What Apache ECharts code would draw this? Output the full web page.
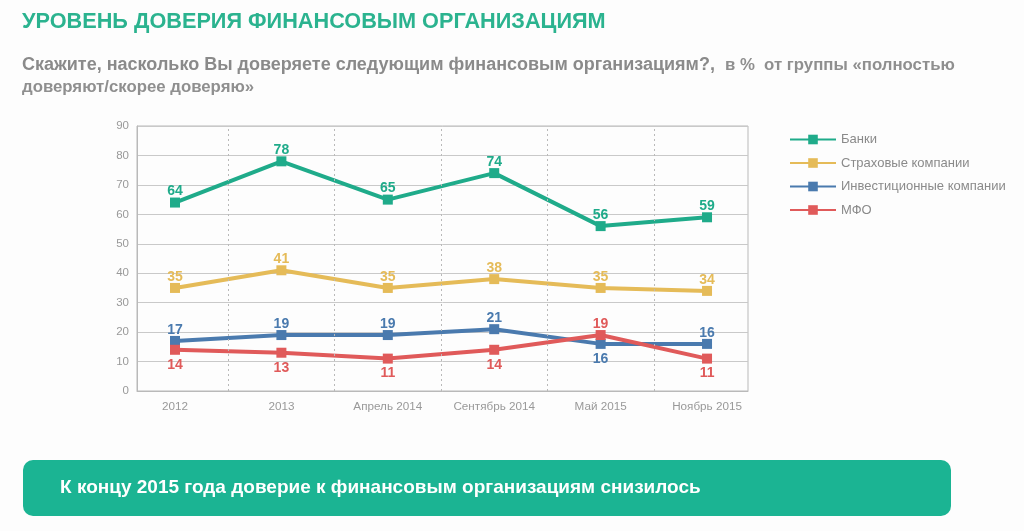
<!DOCTYPE html>
<html>
<head>
    <meta charset="utf-8">
    <title>ECharts</title>
    <script src="https://cdn.jsdelivr.net/npm/echarts@6/dist/echarts.min.js" charset="utf-8"></script>
</head>
<body style="margin:0;background-color:#fdfdfd">
<div id="main" style="width:1024px;height:531px"></div>
<script type="text/javascript">
    var categories = ['2012', '2013', 'Апрель 2014', 'Сентябрь 2014', 'Май 2015', 'Ноябрь 2015'];
    var seriesNames = ['Банки', 'Страховые компании', 'Инвестиционные компании', 'МФО'];
    var banks = [64, 78, 65, 74, 56, 59];
    var insurance = [35, 41, 35, 38, 35, 34];
    var investment = [17, 19, 19, 21, 16, 16];
    var mfo = [14, 13, 11, 14, 19, 11];
    var yTicks = [0, 10, 20, 30, 40, 50, 60, 70, 80, 90];

    var colors = ['#1fab8a', '#e5bb58', '#4a7aae', '#e05a5a'];
    var font = '"Liberation Sans", Arial, sans-serif';

    // labels of the two lower lines go below whichever line is lower at that point
    function points(values, other, lowerBelow) {
        return values.map(function (v, i) {
            var below = lowerBelow && v < other[i];
            return {
                value: [i, v],
                label: {position: below ? 'bottom' : 'top', distance: below ? 3 : -1}
            };
        });
    }

    function line(name, color, data, extra) {
        var s = {
            name: name,
            type: 'line',
            data: data,
            symbol: 'rect',
            symbolSize: 10,
            lineStyle: {width: 4, color: color},
            itemStyle: {color: color},
            label: {
                show: true,
                color: color,
                fontSize: 14,
                fontWeight: 'bold',
                fontFamily: font,
                formatter: function (p) { return p.value[1]; }
            },
            z: 3
        };
        for (var k in extra) s[k] = extra[k];
        return s;
    }

    var myChart = echarts.init(document.getElementById('main'));

    var option = {
        backgroundColor: '#fdfdfd',
        animation: false,
        textStyle: {fontFamily: font},
        title: [
            {
                text: 'УРОВЕНЬ ДОВЕРИЯ ФИНАНСОВЫМ ОРГАНИЗАЦИЯМ',
                left: 22,
                top: 11,
                padding: 0,
                textStyle: {color: '#2bb38f', fontSize: 21.7, fontWeight: 'bold', fontFamily: font}
            },
            {
                text: '{b|Скажите, насколько Вы доверяете следующим финансовым организациям?,}  {n|в %  от группы «полностью}\n{n|доверяют/скорее доверяю»}',
                left: 22,
                top: 54,
                padding: 0,
                textStyle: {
                    rich: {
                        b: {color: '#8a8a8a', fontSize: 18, fontWeight: 'bold', fontFamily: font, lineHeight: 22},
                        n: {color: '#8f8f8f', fontSize: 16.8, fontFamily: font, lineHeight: 22}
                    }
                }
            }
        ],
        legend: {
            orient: 'vertical',
            left: 784,
            top: 128,
            itemWidth: 46,
            itemHeight: 12,
            itemGap: 10.5,
            data: seriesNames,
            textStyle: {color: '#8a8a8a', fontSize: 13, fontFamily: font}
        },
        grid: {
            left: 137,
            right: 276,
            top: 126,
            bottom: 140,
            show: true,
            borderColor: '#b9b9b9',
            borderWidth: 1,
            backgroundColor: 'transparent'
        },
        xAxis: {
            type: 'value',
            min: -0.357,
            max: 5.385,
            axisLine: {show: true, lineStyle: {color: '#b9b9b9'}},
            axisTick: {show: false},
            splitLine: {show: false},
            axisLabel: {
                customValues: [0, 1, 2, 3, 4, 5],
                color: '#999',
                fontSize: 11.7,
                margin: 10,
                formatter: function (v) { return categories[Math.round(v)]; }
            }
        },
        yAxis: {
            type: 'value',
            min: yTicks[0],
            max: yTicks[yTicks.length - 1],
            interval: 10,
            axisLine: {show: true, onZero: false, lineStyle: {color: '#b9b9b9'}},
            axisTick: {show: false},
            axisLabel: {color: '#999', fontSize: 11.5, margin: 8},
            splitLine: {lineStyle: {color: '#c9c9c9', width: 1}}
        },
        series: [
            line(seriesNames[0], colors[0], points(banks, banks, false), {
                markLine: {
                    silent: true,
                    symbol: 'none',
                    label: {show: false},
                    lineStyle: {color: '#b9b9b9', type: [2, 3], width: 1},
                    data: [{xAxis: 0.5}, {xAxis: 1.5}, {xAxis: 2.5}, {xAxis: 3.5}, {xAxis: 4.5}]
                }
            }),
            line(seriesNames[1], colors[1], points(insurance, insurance, false)),
            line(seriesNames[2], colors[2], points(investment, mfo, true)),
            line(seriesNames[3], colors[3], points(mfo, investment, true))
        ],
        graphic: [
            {
                type: 'rect',
                shape: {x: 23, y: 460, width: 928, height: 56, r: 10},
                style: {fill: '#1bb493'}
            },
            {
                type: 'text',
                x: 60,
                y: 488,
                style: {
                    text: 'К концу 2015 года доверие к финансовым организациям снизилось',
                    fill: '#fff',
                    font: 'bold 19px ' + font,
                    verticalAlign: 'middle'
                }
            }
        ]
    };

    myChart.setOption(option);
</script>
</body>
</html>
